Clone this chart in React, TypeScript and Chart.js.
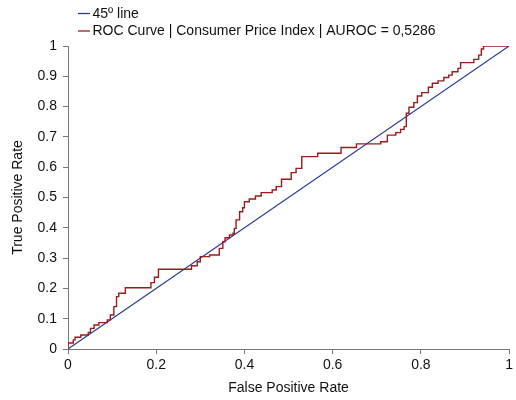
import React, { useEffect, useRef } from "react";
import { Chart, registerables } from "chart.js";

Chart.register(...registerables);

const seriesLabels = ["45º line", "ROC Curve | Consumer Price Index | AUROC = 0,5286"];
const diagonalFpr = [0, 1];
const diagonalTpr = [0, 1];

const rocFpr = [
  0, 0, 0.012, 0.016, 0.029, 0.046, 0.051, 0.059, 0.07, 0.089, 0.096, 0.104, 0.11, 0.115, 0.13,
  0.188, 0.196, 0.205, 0.28, 0.293, 0.3, 0.321, 0.343, 0.351, 0.356, 0.366, 0.374, 0.377, 0.381,
  0.389, 0.396, 0.4, 0.411, 0.425, 0.438, 0.463, 0.472, 0.484, 0.506, 0.517, 0.53, 0.566, 0.619,
  0.654, 0.709, 0.724, 0.743, 0.754, 0.762, 0.767, 0.773, 0.784, 0.792, 0.802, 0.817, 0.826,
  0.839, 0.852, 0.863, 0.871, 0.884, 0.89, 0.92, 0.931, 0.937, 0.942, 1,
];
const rocTpr = [
  0, 0.02, 0.03, 0.039, 0.046, 0.055, 0.068, 0.079, 0.087, 0.096, 0.112, 0.14, 0.173, 0.184, 0.202,
  0.219, 0.237, 0.263, 0.275, 0.288, 0.305, 0.31, 0.332, 0.354, 0.367, 0.376, 0.382, 0.398, 0.426,
  0.453, 0.466, 0.486, 0.495, 0.505, 0.516, 0.525, 0.536, 0.56, 0.582, 0.596, 0.635, 0.646, 0.665,
  0.677, 0.684, 0.706, 0.714, 0.725, 0.734, 0.778, 0.798, 0.813, 0.835, 0.846, 0.864, 0.877,
  0.885, 0.896, 0.904, 0.915, 0.926, 0.945, 0.956, 0.97, 0.99, 1, 1,
];

const xTitle = "False Positive Rate";
const yTitle = "True Positive Rate";

const BLUE = "#2b3a91";
const RED = "#9a1b1b";
const FONT = "'Liberation Sans', Arial, sans-serif";
const FS = 14;

const fmt = (v: any) => String(Math.round(Number(v) * 10) / 10);

const legendPlugin = {
  id: "customLegend",
  afterDraw(chart: any) {
    const ctx = chart.ctx;
    ctx.save();
    ctx.font = `${FS}px ${FONT}`;
    ctx.textBaseline = "middle";
    ctx.textAlign = "left";
    const ys = [13.5, 31];
    chart.data.datasets.forEach((ds: any, i: number) => {
      const y = ys[i];
      ctx.strokeStyle = ds.borderColor;
      ctx.lineWidth = 1.3;
      ctx.beginPath();
      ctx.moveTo(78, y);
      ctx.lineTo(90, y);
      ctx.stroke();
      ctx.fillStyle = "#111";
      ctx.fillText(ds.label, 92.5, y + 0.5);
    });
    ctx.restore();
  },
};

export default function App() {
  const ref = useRef<HTMLCanvasElement | null>(null);
  useEffect(() => {
    if (!ref.current) return;
    const chart = new Chart(ref.current, {
      type: "line",
      data: {
        datasets: [
          {
            label: seriesLabels[0],
            data: diagonalFpr.map((x, i) => ({ x, y: diagonalTpr[i] })),
            borderColor: BLUE,
            borderWidth: 1.2,
            pointRadius: 0,
            order: 2,
          },
          {
            label: seriesLabels[1],
            data: rocFpr.map((x, i) => ({ x, y: rocTpr[i] })),
            borderColor: RED,
            borderWidth: 1.4,
            pointRadius: 0,
            stepped: "before",
            order: 1,
          },
        ],
      },
      options: {
        animation: false,
        responsive: false,
        layout: { padding: { top: 46, right: 5.5, bottom: 0, left: 0 } },
        plugins: { legend: { display: false }, tooltip: { enabled: false } },
        scales: {
          x: {
            type: "linear",
            min: 0,
            max: 1,
            afterFit: (s: any) => {
              s.height = 51;
            },
            ticks: { stepSize: 0.2, padding: 3, color: "#111", font: { family: FONT, size: FS }, callback: fmt },
            grid: { display: true, drawOnChartArea: false, drawTicks: true, tickLength: 5, color: "#777" },
            border: { color: "#777", width: 1 },
            title: { display: true, text: xTitle, color: "#111", font: { family: FONT, size: FS }, padding: { top: 0, bottom: 3 } },
          },
          y: {
            type: "linear",
            min: 0,
            max: 1,
            afterFit: (s: any) => {
              s.width = 68;
            },
            ticks: { stepSize: 0.1, padding: 6, color: "#111", font: { family: FONT, size: FS }, callback: fmt },
            grid: { display: true, drawOnChartArea: false, drawTicks: true, tickLength: 5, color: "#777" },
            border: { color: "#777", width: 1 },
            title: { display: true, text: yTitle, color: "#111", font: { family: FONT, size: FS }, padding: { top: 10, bottom: 0 } },
          },
        },
      },
      plugins: [legendPlugin],
    });
    return () => chart.destroy();
  }, []);
  return (
    <canvas
      ref={ref}
      width={516}
      height={400}
      style={{ position: "absolute", left: 0, top: 0, width: 516, height: 400, display: "block" }}
    />
  );
}
